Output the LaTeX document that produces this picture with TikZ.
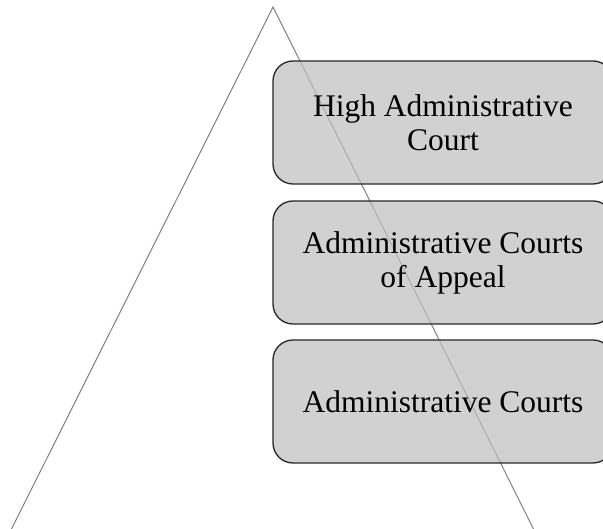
\documentclass[tikz,border=0pt]{standalone}
\usepackage{fontspec}
\setmainfont{Liberation Serif}
\usepackage{tikz}
\tikzset{court/.style={draw=black!85, line width=1.3pt, fill=black!25, fill opacity=0.72,
		text opacity=1, rounded corners=20pt, minimum width=340pt, minimum height=123pt,
		inner sep=0pt, align=center, font=\fontsize{31.5}{34}\selectfont},
	side/.style={draw=black!50, line width=1pt}}

\begin{document}
\begin{tikzpicture}[x=1pt,y=1pt]
			\useasboundingbox (0,0) rectangle (603,529);
			\clip (0,0) rectangle (603,529);
			\coordinate (top) at (273,522);
			\coordinate (left) at (11.5,0);
			\coordinate (right) at (533.5,0);
			\draw[side] (left) -- (top) -- (right);
			\node[court] (high) at (443,406.5) {High Administrative\\Court};
			\node[court] (appeal) at (443,266.5) {Administrative Courts\\of Appeal};
			\node[court] (first) at (443,127.5) {Administrative Courts};
			\end{tikzpicture}
\end{document}
